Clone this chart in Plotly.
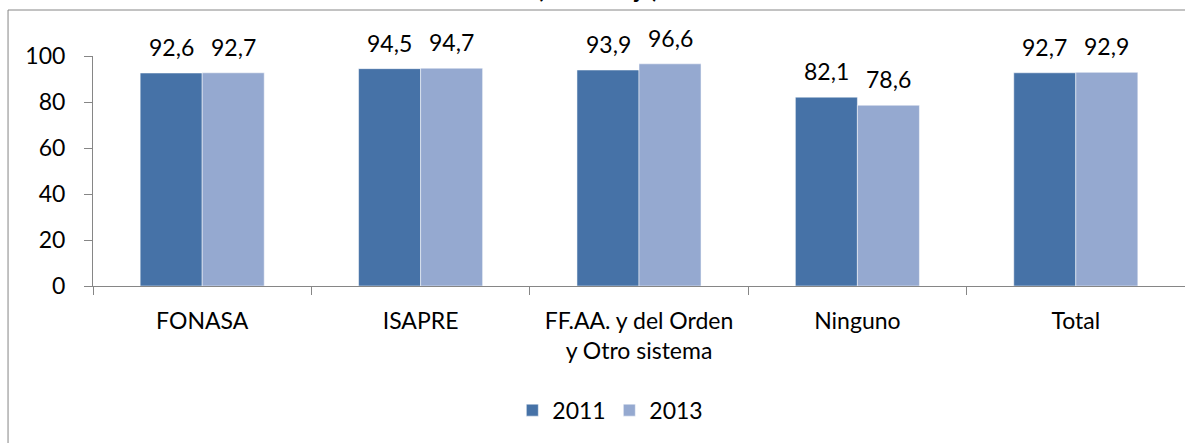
import plotly.graph_objects as go

categories = ["FONASA", "ISAPRE", "FF.AA. y del Orden<br>y Otro sistema", "Ninguno", "Total"]
years = ["2011", "2013"]
values_2011 = [92.6, 94.5, 93.9, 82.1, 92.7]
values_2013 = [92.7, 94.7, 96.6, 78.6, 92.9]
colors = ["#4672A7", "#95A9D0"]
title_text = "(Porcentaje)"

FONT = "Lato"
FS = 23
AXIS_COLOR = "#868686"

fig = go.Figure()
for name, vals, col in zip(years, [values_2011, values_2013], colors):
    fig.add_trace(go.Bar(
        x=categories, y=vals, name=name,
        marker=dict(color=col, line=dict(color="rgba(255,255,255,0.5)", width=1)),
        hoverinfo="x+y",
    ))

# data labels
annotations = []
for vals, shift in zip([values_2011, values_2013], [-31, 31]):
    for c, v in zip(categories, vals):
        annotations.append(dict(
            x=c, y=v, xref="x", yref="y", xshift=shift, yshift=26,
            text=f"{v:.1f}".replace(".", ","), showarrow=False,
            yanchor="middle", xanchor="center",
            font=dict(family=FONT, size=FS, color="black"),
        ))

# cut-off title
annotations.append(dict(
    x=0.4625, y=1.29, xref="paper", yref="paper", text=f"<b>{title_text}</b>",
    showarrow=False, xanchor="center", yanchor="middle",
    font=dict(family=FONT, size=FS, color="black"),
))

fig.update_layout(
    width=1185, height=443,
    margin=dict(l=93, r=0, t=56, b=157, autoexpand=False),
    paper_bgcolor="white", plot_bgcolor="white",
    barmode="group", bargap=0.432, bargroupgap=0,
    font=dict(family=FONT, size=FS, color="black"),
    showlegend=True,
    legend=dict(orientation="h", x=0.384, y=-0.54, xanchor="left", yanchor="middle",
                font=dict(family=FONT, size=FS, color="black"),
                entrywidth=52, bgcolor="rgba(0,0,0,0)"),
    annotations=annotations,
    shapes=[dict(type="rect", xref="paper", yref="paper",
                 x0=-0.0778, x1=1.1, y0=-1.0, y1=1.2,
                 line=dict(color=AXIS_COLOR, width=1), fillcolor="rgba(0,0,0,0)",
                 layer="below")],
)
fig.update_xaxes(
    type="category", showline=True, linecolor=AXIS_COLOR, linewidth=1,
    ticks="outside", tickson="boundaries", ticklen=8, tickcolor=AXIS_COLOR,
    showgrid=False, ticklabelstandoff=14, automargin=False,
    tickfont=dict(family=FONT, size=FS, color="black"),
)
fig.update_yaxes(
    range=[0, 100], dtick=20, showline=True, linecolor=AXIS_COLOR, linewidth=1,
    ticks="outside", ticklen=8, tickcolor=AXIS_COLOR, showgrid=False,
    zeroline=False, ticklabelstandoff=14, automargin=False,
    tickfont=dict(family=FONT, size=FS, color="black"),
)

fig.write_html("out.html", config={"displayModeBar": False},
               post_script="document.body.style.margin='0';")
